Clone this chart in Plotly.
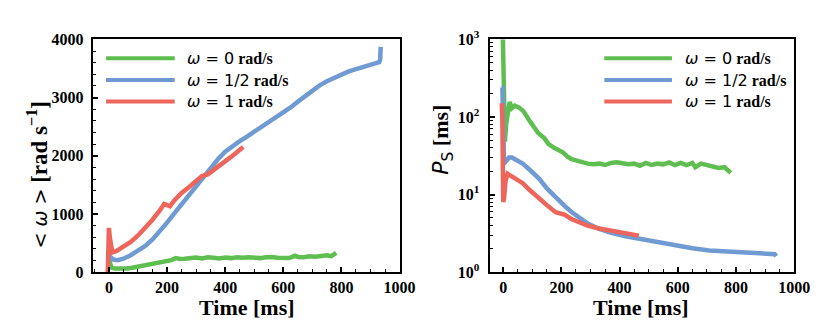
import numpy as np
import plotly.graph_objects as go

# ---- data ----
labels = ["0", "1/2", "1"]
colors = ["#5fbe50", "#6f9bd2", "#ee655b"]

# left panel: <omega> [rad/s] vs time [ms]
t_w0 = [0, 3, 8, 20, 40, 60, 80, 100, 120, 140, 160, 180, 200, 215, 230, 245, 260, 280,
        300, 320, 340, 360, 380, 400, 420, 440, 460, 480, 500, 520, 540, 560, 580, 600,
        620, 640, 650, 670, 690, 710, 730, 750, 765, 775, 782]
w_w0 = [230, 150, 80, 60, 55, 60, 75, 95, 115, 135, 155, 175, 185, 205, 240, 225, 230, 240,
        250, 235, 255, 245, 235, 250, 240, 255, 245, 255, 250, 240, 255, 260, 245, 250,
        240, 280, 260, 255, 270, 265, 280, 290, 275, 310, 330]

t_w12 = [0, 5, 15, 30, 50, 75, 100, 125, 150, 175, 200, 225, 250, 275, 300, 325, 350, 375,
         400, 425, 450, 475, 500, 525, 550, 575, 600, 625, 650, 675, 700, 725, 750, 775,
         800, 825, 850, 875, 900, 920, 930, 933, 935]
w_w12 = [280, 260, 215, 205, 230, 290, 360, 450, 560, 700, 850, 1010, 1170, 1330, 1480, 1640,
         1790, 1940, 2070, 2170, 2250, 2330, 2410, 2490, 2570, 2650, 2740, 2830, 2930, 3030,
         3130, 3210, 3280, 3340, 3400, 3450, 3490, 3530, 3570, 3600, 3610, 3650, 3870]

t_w1 = [-4, -2, 0, 3, 7, 12, 25, 50, 75, 100, 125, 150, 175, 190, 200, 210, 225, 250, 275,
        300, 320, 340, 360, 380, 400, 420, 440, 462]
w_w1 = [0, 300, 760, 600, 400, 340, 360, 430, 520, 630, 760, 900, 1060, 1170, 1150, 1130,
        1230, 1360, 1460, 1580, 1650, 1680, 1750, 1820, 1900, 1980, 2060, 2150]

# right panel: P_S [ms] vs time [ms]
t_p0 = [-2, 0, 3, 6, 10, 15, 22, 30, 40, 55, 70, 90, 105, 120, 140, 155, 175, 190, 205, 220,
        235, 250, 270, 290, 310, 330, 350, 370, 390, 410, 430, 450, 470, 490, 510, 530, 550,
        570, 590, 610, 630, 650, 660, 680, 700, 720, 740, 760, 770, 782]
p_p0 = [1500, 600, 100, 48, 80, 120, 156, 130, 140, 132, 118, 90, 75, 62, 54, 45, 40, 37, 35,
        31, 28.5, 27.5, 26, 25, 24.5, 25, 24, 25.5, 26, 25, 24.5, 25, 23.5, 25.5, 24, 25, 24.5,
        26, 24, 25.5, 24, 25.5, 22.5, 25, 24, 23, 22, 22.5, 20.5, 19]

t_p12 = [-5, -3, 0, 3, 10, 20, 30, 45, 67, 90, 124, 150, 180, 210, 236, 265, 292, 330, 371,
         420, 461, 530, 596, 650, 708, 760, 820, 880, 920, 933, 938]
p_p12 = [240, 240, 80, 25, 27, 30, 30, 28, 25, 21, 15.9, 12, 9.1, 7.2, 5.9, 4.9, 4.2, 3.6,
         3.2, 2.9, 2.72, 2.42, 2.2, 2.03, 1.9, 1.84, 1.78, 1.74, 1.72, 1.70, 1.6]

t_p1 = [-5, -3, 0, 3, 8, 15, 25, 45, 67, 90, 124, 150, 180, 200, 210, 236, 265, 292, 330,
        371, 420, 466]
p_p1 = [150, 100, 8, 9, 15, 18.5, 17.5, 16, 14, 11.5, 9.1, 7.3, 5.9, 5.5, 5.5, 4.8, 4.3,
        3.95, 3.65, 3.4, 3.15, 2.95]

log_ticks = [1, 10, 100, 1000]
log_ticktext = ["10<sup>0</sup>", "10<sup>1</sup>", "10<sup>2</sup>", "10<sup>3</sup>"]

left_series = [(t_w0, w_w0), (t_w12, w_w12), (t_w1, w_w1)]
right_series = [(t_p0, p_p0), (t_p12, p_p12), (t_p1, p_p1)]

SERIF = "Liberation Serif, Times New Roman, Times, serif"
MATH = "DejaVu Sans"

fig = go.Figure()
for (t, v), c in zip(left_series, colors):
    fig.add_trace(go.Scatter(x=t, y=v, mode="lines", line=dict(color=c, width=4.5),
                             showlegend=False, xaxis="x", yaxis="y"))
for (t, v), c in zip(right_series, colors):
    fig.add_trace(go.Scatter(x=t, y=v, mode="lines", line=dict(color=c, width=4.5),
                             showlegend=False, xaxis="x2", yaxis="y2"))

tickfont = dict(family=SERIF, size=16, color="black", weight="bold")
axis_common = dict(showgrid=False, zeroline=False, showline=True, linecolor="black",
                   linewidth=2, mirror=True, ticks="inside", ticklen=5, tickwidth=1.5,
                   tickcolor="black", tickfont=tickfont)

ydom = [1 - 269.3 / 332, 1 - 21.7 / 332]

fig.update_layout(
    width=830, height=332,
    margin=dict(l=0, r=0, t=0, b=0),
    paper_bgcolor="white", plot_bgcolor="white",
    xaxis=dict(domain=[86.3 / 830, 399.3 / 830], range=[-56, 1000], dtick=200,
               minor=dict(ticks="inside", dtick=50, ticklen=3, tickwidth=1.2, tickcolor="black"),
               anchor="y", **axis_common),
    yaxis=dict(domain=ydom, range=[0, 4000], dtick=1000, ticklabelstandoff=4,
               minor=dict(ticks="inside", dtick=200, ticklen=3, tickwidth=1.2, tickcolor="black"),
               anchor="x", **axis_common),
    xaxis2=dict(domain=[491 / 830, 801.7 / 830], range=[-47, 1000], dtick=200,
                minor=dict(ticks="inside", dtick=50, ticklen=3, tickwidth=1.2, tickcolor="black"),
                anchor="y2", **axis_common),
    yaxis2=dict(domain=ydom, type="log", range=[0, 3], tickvals=log_ticks,
                ticktext=log_ticktext, ticklabelstandoff=5,
                minor=dict(ticks="inside", ticklen=3, tickwidth=1.2, tickcolor="black",
                           tickvals=[k * 10 ** d for d in range(3) for k in range(2, 10)]),
                anchor="x2", **axis_common),
)

# axis titles
title_font = dict(family=SERIF, size=22, color="black", weight="bold")
for xc in (243.5, 645.8):
    fig.add_annotation(x=xc / 830, y=1 - 307 / 332, xref="paper", yref="paper",
                       text="Time [ms]", showarrow=False, font=title_font,
                       xanchor="center", yanchor="middle")

fig.add_annotation(
    x=30 / 830, y=1 - 166 / 332, xref="paper", yref="paper", textangle=-90, showarrow=False,
    xanchor="center", yanchor="middle", font=dict(title_font, size=23),
    text=(f"<span style='font-family:{MATH};font-weight:normal;font-size:19px'>"
          "&lt; <i>ω</i> &gt;</span> [rad s<sup>−1</sup>]"))
fig.add_annotation(
    x=443 / 830, y=1 - 128 / 332, xref="paper", yref="paper", textangle=-90, showarrow=False,
    xanchor="center", yanchor="middle", font=title_font,
    text=(f"<span style='font-family:{MATH};font-weight:normal'><i>P</i><sub>S</sub></span>"
          " [ms]"))

# legends (drawn by hand so the line samples have the right length)
leg_font = dict(family=SERIF, size=16, color="black", weight="bold")
leg_rows = [41.7, 65, 87.7]
for x0, x1, xt in ((100, 170, 180), (608, 677, 688)):
    for lab, c, yr in zip(labels, colors, leg_rows):
        yp = 1 - yr / 332
        fig.add_shape(type="line", xref="paper", yref="paper", x0=x0 / 830, x1=x1 / 830,
                      y0=yp, y1=yp, line=dict(color=c, width=4))
        fig.add_annotation(
            x=xt / 830, y=yp, xref="paper", yref="paper", showarrow=False,
            xanchor="left", yanchor="middle", font=leg_font,
            text=(f"<span style='font-family:{MATH};font-weight:normal'><i>ω</i> = {lab}</span>"
                  " rad/s"))

fig.write_html("out.html")
